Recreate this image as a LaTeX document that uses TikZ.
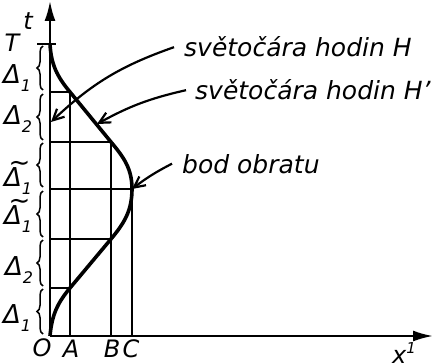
\documentclass[tikz,border=0pt]{standalone}
\usepackage{fontspec}
\setmainfont{DejaVu Sans}
\usetikzlibrary{arrows.meta,decorations.pathreplacing}
\newcommand\sbs[1]{\raisebox{-0.32em}{\fontsize{16}{16}\selectfont #1}}
\newcommand\tDelta{\makebox[0pt][l]{\raisebox{0.56em}{\kern0.18em\char"7E}}Δ}
\begin{document}
\begin{tikzpicture}[x=1pt,y=1pt,
  gridline/.style={line width=1.6pt},
  axis/.style={line width=2.2pt,-{Latex[length=20pt,width=11pt]}},
  world/.style={line width=3.6pt},
  lab/.style={font=\fontsize{25}{25}\selectfont\itshape, anchor=base west, inner sep=0pt},
  ptr/.style={line width=2.2pt,-{Straight Barb[length=11pt,width=11pt]}},
  brc/.style={line width=1.5pt, decorate, decoration={brace,amplitude=6pt}},
  side/.style={font=\fontsize{26}{26}\selectfont\itshape, inner sep=0pt},
  tck/.style={font=\fontsize{24}{24}\selectfont\itshape, inner sep=0pt}]
\useasboundingbox (0,0) rectangle (441,362);
% key points
\coordinate (O) at (50,26);
\coordinate (P1) at (70,74);
\coordinate (P2) at (111,123);
\coordinate (P3) at (132,173);
\coordinate (P4) at (111,220);
\coordinate (P5) at (70,270);
\coordinate (P6) at (50,318);
\coordinate (ttip) at (50,361);
\coordinate (xtip) at (433,26);
\coordinate (Tl) at (37,318);
\coordinate (Tr) at (56,318);
\coordinate (e1) at (51,240);
\coordinate (e2) at (97,238);
% axes
\draw[axis] (O) -- (ttip);
\draw[axis] (O) -- (xtip);
\draw[line width=2.2pt] (Tl) -- (Tr);
% grid
\draw[gridline] (O|-P5) -- (P5) -- (P5|-O);
\draw[gridline] (O|-P1) -- (P1);
\draw[gridline] (O|-P4) -- (P4) -- (P4|-O);
\draw[gridline] (O|-P2) -- (P2);
\draw[gridline] (O|-P3) -- (P3) -- (P3|-O);
% world line of H'
\draw[world] (O) to[out=85,in=230] (P1) -- (P2) to[out=50,in=-90] (P3)
  to[out=90,in=-50] (P4) -- (P5) to[out=130,in=-87] (P6);
% braces
\draw[brc] (43,28) -- (43,73);
\draw[brc] (43,76) -- (43,122);
\draw[brc] (43,125) -- (43,171);
\draw[brc] (43,175) -- (43,219);
\draw[brc] (43,222) -- (43,268);
\draw[brc] (43,272) -- (43,316);
% side labels
\node[side] (d1a) at (17,44) {Δ\sbs{1}};
\node[side] (d2a) at (19,92) {Δ\sbs{2}};
\node[side] (d3a) at (18,146) {\tDelta\sbs{1}};
\node[side] (d3b) at (18,184) {\tDelta\sbs{1}};
\node[side] (d2b) at (18,243) {Δ\sbs{2}};
\node[side] (d1b) at (17,284) {Δ\sbs{1}};
\node[tck] (Tlab) at (12,319) {T};
\node[tck] (tlab) at (28,341) {t};
\node[tck] (Olab) at (42,14) {O};
\node[tck] (Alab) at (71,13) {A};
\node[tck] (Blab) at (112,13) {B};
\node[tck] (Clab) at (131,13) {C};
\node[tck] (xlab) at (404,9) {x\raisebox{0.45em}{\fontsize{15}{15}\selectfont 1}};
% right labels
\node[lab] (h1) at (184,305) {světočára hodin H};
\node[lab] (h2) at (195,262) {světočára hodin H'};
\node[lab] (bo) at (182,189) {bod obratu};
\draw[ptr] ([xshift=-10pt]h1.west) to[bend right=12] (e1);
\draw[ptr] ([xshift=-9pt]h2.west) to[bend right=8] (e2);
\draw[ptr] ([xshift=-10pt]bo.west) to[bend right=5] (P3);
\end{tikzpicture}
\end{document}
